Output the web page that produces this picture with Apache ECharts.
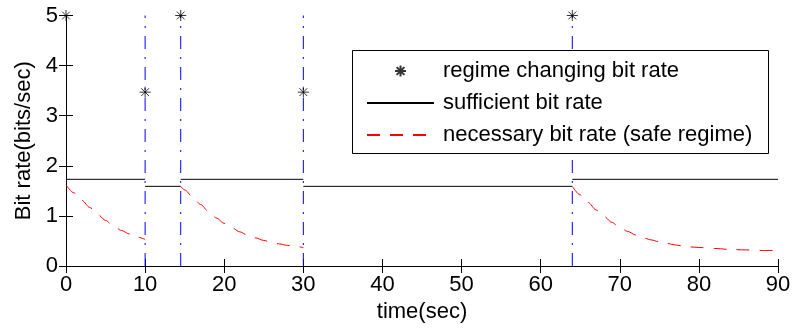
<!DOCTYPE html>
<html>
<head>
<meta charset="utf-8">
<script src="https://cdn.jsdelivr.net/npm/echarts@6/dist/echarts.min.js"></script>
<style>
html,body{margin:0;padding:0;background:#fff;}
#c{width:794px;height:329px;}
</style>
</head>
<body>
<div id="c"></div>
<script>
// ---- data ----
const xTicks = [0, 10, 20, 30, 40, 50, 60, 70, 80, 90];
const yTicks = [0, 1, 2, 3, 4, 5];
const switchTimes = [10, 14.5, 30, 64];
const regimePoints = [[0, 5], [10, 3.47], [14.5, 5], [30, 3.47], [64, 5]];
const sufficientSegments = [
  [[0, 1.73], [10, 1.73]],
  [[10, 1.59], [14.5, 1.59]],
  [[14.5, 1.73], [30, 1.73]],
  [[30, 1.59], [64, 1.59]],
  [[64, 1.73], [90, 1.73]]
];
const necessarySeg1 = [[0,1.62],[1,1.46],[2,1.31],[3,1.17],[4,1.03],[5,0.91],[6,0.80],[7,0.71],[8,0.64],[9,0.58],[10,0.53]];
const necessarySeg2 = [[14.5,1.59],[15,1.52],[16,1.38],[17,1.23],[18,1.09],[19,0.96],[20,0.85],[21,0.76],[22,0.68],[23,0.61],[24,0.56],[25,0.51],[26,0.47],[27,0.44],[28,0.41],[29,0.39],[30,0.37]];
const necessarySeg3 = [[64,1.59],[65,1.42],[66,1.27],[67,1.12],[68,0.99],[69,0.87],[70,0.77],[71,0.69],[72,0.62],[73,0.56],[74,0.52],[75,0.48],[76,0.45],[77,0.42],[78,0.40],[79,0.38],[80,0.37],[82,0.35],[84,0.33],[86,0.32],[88,0.31],[90,0.31]];
const names = ['regime changing bit rate', 'sufficient bit rate', 'necessary bit rate (safe regime)'];

// ---- build ----
function joinSegments(segs) {
  const out = [];
  segs.forEach((s, i) => {
    if (i > 0) out.push([s[0][0], null]);
    s.forEach(p => out.push(p));
  });
  return out;
}
const verticalData = joinSegments(switchTimes.map(t => [[t, 0], [t, 5]]));
const FONT = 'Liberation Sans, Arial, sans-serif';
const starPath = 'path://M5 0 L5 10 M0 5 L10 5 M1.46 1.46 L8.54 8.54 M8.54 1.46 L1.46 8.54';

const axisCommon = {
  type: 'value',
  splitLine: { show: false },
  axisLine: { show: true, lineStyle: { color: '#000', width: 1 } },
  axisTick: { show: true, inside: true, length: 7, lineStyle: { color: '#000', width: 1 } }
};

const chart = echarts.init(document.getElementById('c'), null, { renderer: 'canvas' });
chart.setOption({
  animation: false,
  backgroundColor: '#fff',
  textStyle: { fontFamily: FONT },
  grid: { left: 66, right: 16, top: 15.5, bottom: 63, containLabel: false },
  xAxis: [
    Object.assign({}, axisCommon, {
      position: 'bottom', min: xTicks[0], max: xTicks[xTicks.length - 1], interval: 10,
      axisLabel: { fontSize: 22, color: '#000', fontFamily: FONT, margin: 8 },
      name: 'time(sec)', nameLocation: 'middle', nameGap: 32,
      nameTextStyle: { fontSize: 22, color: '#000', fontFamily: FONT }
    }),
    Object.assign({}, axisCommon, {
      position: 'top', min: xTicks[0], max: xTicks[xTicks.length - 1], interval: 10,
      axisLabel: { show: false }
    })
  ],
  yAxis: [
    Object.assign({}, axisCommon, {
      position: 'left', min: yTicks[0], max: yTicks[yTicks.length - 1], interval: 1,
      axisLabel: { fontSize: 22, color: '#000', fontFamily: FONT, margin: 8 },
      name: 'Bit rate(bits/sec)', nameLocation: 'middle', nameGap: 31,
      nameTextStyle: { fontSize: 22, color: '#000', fontFamily: FONT }
    }),
    Object.assign({}, axisCommon, {
      position: 'right', min: yTicks[0], max: yTicks[yTicks.length - 1], interval: 1,
      axisLabel: { show: false }
    })
  ],
  legend: {
    data: [
      { name: names[0] },
      { name: names[1], itemStyle: { opacity: 0 } },
      { name: names[2], itemStyle: { opacity: 0 } }
    ],
    orient: 'vertical',
    left: 366, top: 60,
    padding: 0,
    itemWidth: 67, itemHeight: 11, itemGap: 10,
    textStyle: { fontSize: 22, lineHeight: 22, color: '#000', fontFamily: FONT, padding: [0, 0, 0, 4] },
    z: 10
  },
  graphic: [{
    type: 'rect', z: 8,
    shape: { x: 352.5, y: 50.5, width: 416, height: 103 },
    style: { fill: '#fff', stroke: '#000', lineWidth: 1 }
  }],
  series: [
    {
      name: 'switch', type: 'line', data: verticalData, symbol: 'none', z: 2,
      connectNulls: false, silent: true,
      lineStyle: { color: '#0000ff', width: 1, type: [13, 8, 2, 8] }
    },
    {
      name: names[1], type: 'line', data: joinSegments(sufficientSegments), symbol: 'none', z: 3,
      connectNulls: false,
      color: '#000',
      lineStyle: { color: '#000', width: 1, type: 'solid' }
    },
    {
      name: names[2], type: 'line', data: joinSegments([necessarySeg1, necessarySeg2, necessarySeg3]),
      symbol: 'none', z: 3, smooth: 0.3, smoothMonotone: 'x', connectNulls: false,
      color: '#ff0000',
      lineStyle: { color: '#ff0000', width: 1, type: [13, 10] }
    },
    {
      name: names[0], type: 'scatter', data: regimePoints, z: 6, clip: false,
      symbol: starPath, symbolSize: 11, symbolKeepAspect: true,
      itemStyle: { color: 'rgba(0,0,0,0)', borderColor: '#000', borderWidth: 1 }
    }
  ]
});
</script>
</body>
</html>
